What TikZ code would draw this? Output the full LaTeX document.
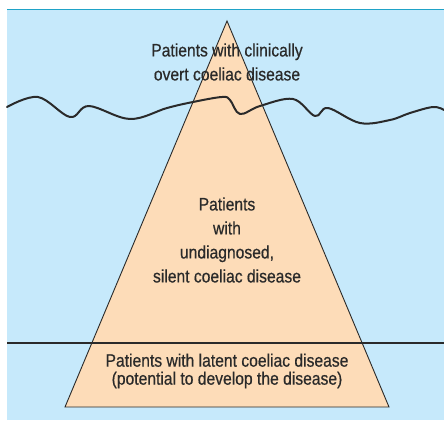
\documentclass[tikz,border=0pt]{standalone}
\usepackage{fontspec}
\newfontfamily\bergfont{Liberation Sans}[FakeStretch=0.87,FakeBold=0.6]
\usetikzlibrary{positioning}
\definecolor{seablue}{HTML}{C6E9FB}
\definecolor{bergpeach}{HTML}{FDDCB8}
\definecolor{rimteal}{HTML}{1FA3C8}
\definecolor{inkgrey}{HTML}{2A2A2A}

\begin{document}
\begin{tikzpicture}[x=1pt,y=-1pt,
    berg/.style={fill=bergpeach,draw=inkgrey,line width=0.9pt,line join=miter},
    wave/.style={draw=inkgrey,line width=2pt,line cap=round,line join=round},
    level/.style={draw=inkgrey,line width=1.4pt},
    bergtext/.style={align=center,text=inkgrey,inner sep=0pt,font=\bergfont\fontsize{18}{24}\selectfont}
    ]
    \useasboundingbox (0,0) rectangle (444,420);

    % sea
    \fill[seablue] (7,9) rectangle (444,420);
    \draw[rimteal,line width=1.2pt] (7,9.5) -- (444,9.5);

    % iceberg
    \coordinate (apex) at (227,21);
    \coordinate (base_l) at (65,407);
    \coordinate (base_r) at (389,407);
    \draw[berg] (apex) -- (base_r) -- (base_l) -- cycle;

    % surface of the water
    \draw[wave] plot[smooth,tension=0.6] coordinates {
      (7,107) (38,97) (70,117) (89,106) (130,119) (167,108) (193,102)
      (222,97) (230,100) (240,114) (260,106) (293,99) (315,116) (328,108)
      (360,123) (390,120) (410,113) (433,107) (444,110)};

    % threshold line
    \coordinate (level_l) at (7,343);
    \coordinate (level_r) at (444,343);
    \draw[level] (level_l) -- (level_r);

    \node(overt) [bergtext] at (227,62) {
      Patients with clinically\\
      overt coeliac disease
    };
    \node(silent) [bergtext] at (227,240) {
      Patients\\
      with\\
      undiagnosed,\\
      silent coeliac disease
    };
    \node(latent) [bergtext,font=\bergfont\fontsize{18}{18}\selectfont] at (227,371) {
      Patients with latent coeliac disease\\
      (potential to develop the disease)
    };

  \end{tikzpicture}
\end{document}
